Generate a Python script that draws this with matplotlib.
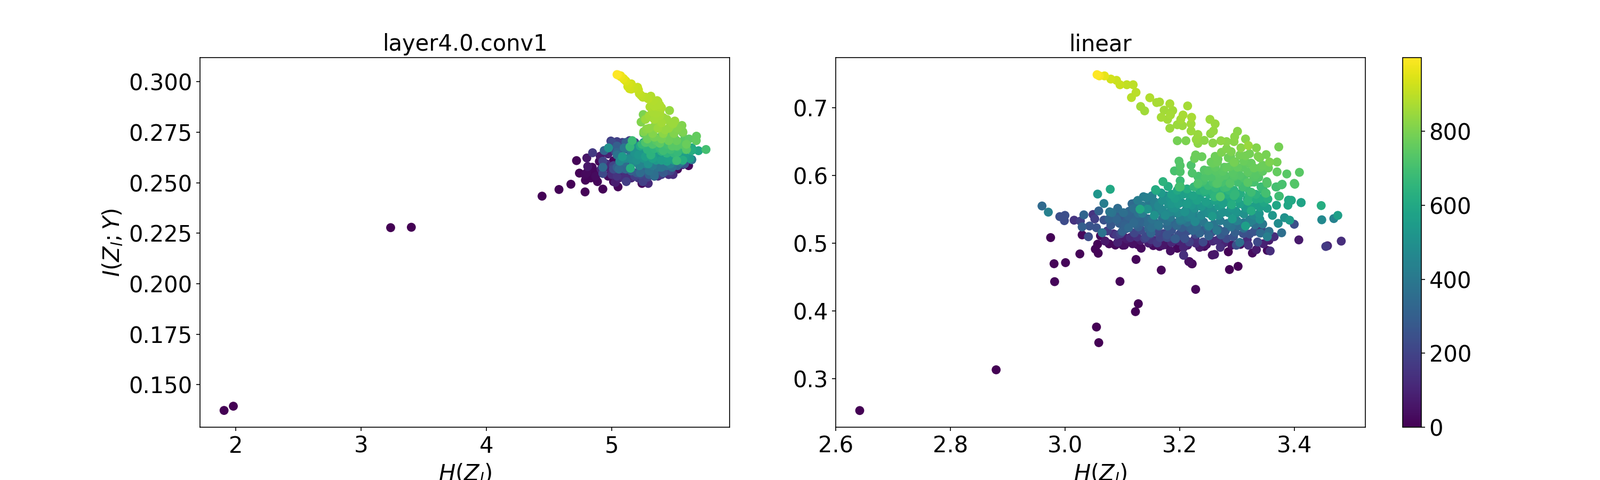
"""Information plane scatter for two layers, coloured by training epoch."""

import matplotlib

matplotlib.use("Agg")

import matplotlib.pyplot as plt
import numpy as np

TITLES = ["layer4.0.conv1", "linear"]

# layer4.0.conv1: epoch, H(Z_l), I(Z_l;Y)
conv_epoch = [
    0, 1, 2, 3,
    5, 6, 7, 8, 9, 10, 11, 12, 13, 14,
    15, 16, 17, 18, 19, 20, 22, 24, 26, 28,
    60, 170, 70, 90, 65, 80, 90, 100, 90, 110,
    120, 120, 125, 120, 110, 120, 130, 120, 125,
    180, 190, 200, 220, 180, 190, 200, 210, 220, 230,
    240, 180, 200, 190, 240, 220, 250, 250, 360,
    320, 340, 330, 340, 350, 360, 370, 400,
    350, 360, 340, 350, 370, 380, 390, 400, 380,
    500, 470, 480, 490, 500, 520, 520, 510, 540, 560,
    550, 560, 590, 550, 500, 520, 510, 530, 540, 550, 600,
    620, 660, 680, 680, 640, 650, 640, 650, 660, 650, 700,
    660, 670, 680, 690, 700, 690,
    760, 760, 750, 740, 740, 770, 770, 760, 750, 780, 810, 780, 740,
    810, 800, 820, 830, 840, 840, 850, 850, 840, 850, 840, 860, 870, 875, 880, 885,
    900, 890, 910, 920, 925, 935, 950, 965, 985, 999, 915,
    870, 870, 865, 860, 850, 865, 860, 850, 845, 830, 850, 840, 815, 800, 810, 815,
    825, 810, 770, 790, 790, 780, 770, 740, 720, 720, 750, 740, 740, 740, 690, 690,
    670, 620, 640, 600, 500, 420, 400, 300, 230, 300, 530, 560, 570, 560, 570, 560,
    620, 450, 470, 450, 440, 410, 390, 430, 330, 260, 380, 300, 230, 280, 330, 300,
    280, 320, 310, 350, 280, 200, 130, 150, 130, 180, 150, 200, 170, 110, 20, 25,
    30, 20, 100, 120, 210, 190, 380, 240,
    975, 960, 945, 930, 925, 920, 915, 905, 895, 890, 885, 880, 880, 880, 875, 875, 880,
]
conv_h = [
    1.906, 1.980, 3.235, 3.400,
    4.443, 4.578, 4.673, 4.786, 4.928, 4.718, 4.741, 4.789, 4.831, 4.885,
    5.049, 4.900, 5.013, 4.829, 4.864, 5.240, 5.612, 5.524, 5.013, 4.970,
    4.800, 4.846, 4.907, 4.970, 4.807, 5.027, 5.056, 4.970, 5.070, 5.155,
    5.290, 5.453, 5.488, 5.141, 5.240, 5.368, 5.566, 5.013, 5.127,
    4.992, 5.041, 4.928, 4.928, 5.115, 5.247, 5.013, 5.084, 5.226, 5.339,
    5.439, 5.141, 5.183, 5.084, 5.041, 5.155, 5.268, 5.368, 5.637,
    4.939, 4.928, 5.041, 5.056, 5.226, 5.339, 5.481, 5.637,
    5.155, 5.197, 5.127, 5.098, 5.240, 5.368, 5.439, 5.552, 5.297,
    4.973, 5.063, 5.098, 5.155, 5.197, 5.254, 5.254, 5.290, 5.353, 5.439,
    5.524, 5.580, 5.691, 5.623, 5.254, 5.297, 5.183, 5.382, 5.084, 5.339, 5.637,
    5.148, 5.144, 5.162, 5.517, 5.396, 5.339, 5.311, 5.439, 5.495, 5.580, 5.751,
    5.240, 5.382, 5.283, 5.524, 5.439, 5.587,
    5.673, 5.675, 5.616, 5.283, 5.353, 5.495, 5.595, 5.382, 5.254, 5.566, 5.559, 5.453, 5.517,
    5.233, 5.250, 5.275, 5.339, 5.424, 5.368, 5.488, 5.502, 5.325, 5.410, 5.460, 5.318, 5.382, 5.368, 5.368, 5.311,
    5.233, 5.268, 5.212, 5.176, 5.141, 5.134, 5.098, 5.070, 5.049, 5.041, 5.155,
    5.325, 5.353, 5.382, 5.297, 5.268, 5.339, 5.396, 5.439, 5.467, 5.297, 5.368, 5.453, 5.524, 5.566, 5.254, 5.325,
    5.410, 5.495, 5.283, 5.339, 5.396, 5.453, 5.517, 5.580, 5.268, 5.325, 5.382, 5.481, 5.559, 5.595, 5.410, 5.467,
    5.524, 5.637, 5.283, 5.226, 5.197, 5.155, 5.098, 5.041, 5.000, 5.112, 5.212, 5.268, 5.325, 5.396, 5.453, 5.495,
    5.566, 5.127, 5.169, 5.219, 5.268, 5.325, 5.396, 5.467, 5.524, 5.580, 5.041, 5.041, 5.013, 5.070, 5.112, 5.155,
    5.197, 5.240, 5.297, 5.339, 5.410, 5.467, 4.999, 5.041, 5.098, 5.183, 5.212, 5.283, 5.396, 4.942, 4.843, 4.800,
    4.871, 4.786, 4.914, 4.956, 5.027, 5.070, 5.155, 5.084,
    5.070, 5.091, 5.112, 5.127, 5.155, 5.155, 5.205, 5.219, 5.247, 5.290, 5.332, 5.361, 5.382, 5.339, 5.396, 5.304, 5.325,
]
conv_i = [
    0.1373, 0.1394, 0.2278, 0.2280,
    0.2434, 0.2467, 0.2493, 0.2455, 0.2469, 0.2610, 0.2548, 0.2513, 0.2524, 0.2506,
    0.2480, 0.2606, 0.2609, 0.2568, 0.2555, 0.2497, 0.2585, 0.2568, 0.2506, 0.2533,
    0.2623, 0.2649, 0.2632, 0.2643, 0.2581, 0.2502, 0.2524, 0.2577, 0.2559, 0.2524,
    0.2497, 0.2541, 0.2541, 0.2603, 0.2524, 0.2533, 0.2590, 0.2550, 0.2541,
    0.2707, 0.2704, 0.2607, 0.2546, 0.2506, 0.2506, 0.2585, 0.2568, 0.2541, 0.2533,
    0.2559, 0.2709, 0.2700, 0.2700, 0.2673, 0.2594, 0.2568, 0.2568, 0.2614,
    0.2660, 0.2577, 0.2651, 0.2568, 0.2550, 0.2541, 0.2577, 0.2616,
    0.2700, 0.2665, 0.2665, 0.2603, 0.2594, 0.2577, 0.2585, 0.2603, 0.2559,
    0.2673, 0.2607, 0.2621, 0.2621, 0.2612, 0.2656, 0.2621, 0.2594, 0.2612, 0.2607,
    0.2621, 0.2634, 0.2659, 0.2621, 0.2700, 0.2673, 0.2647, 0.2638, 0.2630, 0.2647, 0.2673,
    0.2572, 0.2678, 0.2709, 0.2610, 0.2656, 0.2669, 0.2638, 0.2647, 0.2647, 0.2665, 0.2665,
    0.2691, 0.2673, 0.2700, 0.2678, 0.2691, 0.2682,
    0.2709, 0.2731, 0.2717, 0.2726, 0.2709, 0.2726, 0.2691, 0.2726, 0.2744, 0.2748, 0.2784, 0.2744, 0.2682,
    0.2801, 0.2838, 0.2766, 0.2779, 0.2762, 0.2806, 0.2792, 0.2806, 0.2823, 0.2823, 0.2858, 0.2867, 0.2850, 0.2876, 0.2902, 0.2929,
    0.2933, 0.2924, 0.2960, 0.2968, 0.2966, 0.2990, 0.3012, 0.3026, 0.3034, 0.3036, 0.2977,
    0.2850, 0.2845, 0.2832, 0.2832, 0.2814, 0.2814, 0.2797, 0.2814, 0.2797, 0.2770, 0.2770, 0.2770, 0.2770, 0.2753, 0.2753, 0.2744,
    0.2744, 0.2744, 0.2717, 0.2726, 0.2717, 0.2709, 0.2709, 0.2717, 0.2700, 0.2691, 0.2696, 0.2682, 0.2691, 0.2665, 0.2660, 0.2665,
    0.2651, 0.2660, 0.2665, 0.2682, 0.2682, 0.2665, 0.2673, 0.2682, 0.2700, 0.2700, 0.2638, 0.2630, 0.2621, 0.2612, 0.2621, 0.2612,
    0.2612, 0.2621, 0.2603, 0.2585, 0.2594, 0.2585, 0.2577, 0.2594, 0.2585, 0.2594, 0.2638, 0.2577, 0.2568, 0.2577, 0.2568, 0.2559,
    0.2550, 0.2559, 0.2541, 0.2533, 0.2550, 0.2559, 0.2541, 0.2533, 0.2524, 0.2533, 0.2524, 0.2528, 0.2541, 0.2594, 0.2577, 0.2550,
    0.2533, 0.2541, 0.2568, 0.2594, 0.2656, 0.2656, 0.2647, 0.2594,
    0.3030, 0.3017, 0.3004, 0.2977, 0.2990, 0.2964, 0.2973, 0.2942, 0.2924, 0.2916, 0.2907, 0.2907, 0.2885, 0.2880, 0.2872, 0.2876, 0.2889,
]

# linear: epoch, H(Z_l), I(Z_l;Y)
linear_epoch = [
    0, 1, 2, 3, 4, 5, 6, 7, 8, 9, 10, 11, 12, 13, 14,
    15, 16, 17, 18, 19, 20, 21, 22, 24, 26, 28, 30, 32, 35, 40,
    340, 430, 240, 240, 230, 150, 320, 190, 300, 260, 150, 190, 260, 310, 420,
    520, 600, 380, 20, 230, 130, 80, 60, 70, 40, 30, 30, 50, 40, 50,
    20, 30, 130, 170, 230, 290, 250, 190, 120, 180, 130, 80, 320, 340, 310,
    300, 270, 310, 390, 350, 360, 320, 340, 600, 510, 420, 430, 400, 600, 450,
    480, 590, 560, 670, 500, 510, 560, 570, 510, 480, 510, 480, 350, 340, 360,
    340, 430, 330, 310, 350, 330, 220, 260, 450, 320,
    130, 170, 100, 70, 240, 360, 480, 540, 500, 470, 440, 560, 620, 560, 590,
    600, 690, 590, 560, 530, 700, 710, 730, 700, 520, 610, 560, 430, 430, 370,
    350, 130, 80, 130, 240, 220, 150, 70, 30, 20, 130, 360, 240, 10, 50,
    60, 130, 230, 130, 5, 5, 130, 40, 30, 280, 230, 70, 30, 10, 100,
    220, 310, 130, 330, 320, 400, 280, 260, 350, 400, 470, 440, 540, 500, 500,
    500, 540, 490, 510, 430, 550, 540, 570, 620, 650, 720, 620, 660, 650, 690,
    620, 700, 730, 730, 740, 730, 720,
    999, 985, 960, 930, 920, 915, 905, 900, 895, 890, 880, 870, 870, 870, 865,
    860, 855, 860, 860, 865, 860, 865, 870, 870, 860, 850, 850, 850, 855, 850,
    850, 845, 840, 835, 845, 840, 830, 825, 820, 830, 820, 820, 825, 820, 820,
    845, 820, 810, 815, 790, 790, 800, 800, 790, 795, 800, 790, 775, 770, 770,
    780, 780, 790, 770, 775, 760, 760, 750, 770, 760, 740, 740, 730, 730, 710,
    720, 720, 720, 730, 710, 740, 730, 735, 735, 730, 700, 700, 730, 690, 700,
    640, 620, 610, 680, 690, 710, 695, 720, 720, 690, 690, 640, 680, 660, 650,
    630, 590, 580,
    60, 90, 70, 40, 70, 80, 120, 60, 110, 100, 70, 120, 50, 110, 100, 50, 40, 120, 90,
    180, 170, 230, 210, 230, 180, 220, 200, 260, 240, 240, 220, 280, 240, 300, 300, 250, 260, 200,
    320, 300, 330, 320, 340, 360, 400, 340, 380, 350, 400, 390, 410, 400, 430, 400, 360,
    370, 420, 430, 470, 470, 470, 470, 490, 480, 500, 500, 470,
    420, 430, 500, 530, 520, 530, 530, 540, 540, 560, 570, 560, 590,
    540, 570, 600, 580, 560, 600, 620, 620, 640, 660,
    620, 660, 680, 670, 710, 650, 700, 680, 710, 680,
    720, 735, 730, 740, 730, 750, 740, 750, 740, 750, 750, 760, 770, 770,
    250, 380, 300, 270, 310, 330, 340, 370, 330, 420, 300, 320, 380, 330, 440,
    470, 420, 430, 390, 370, 500, 520, 550, 450, 420, 470, 540, 450, 500, 430,
    330, 300, 200, 170, 240, 150, 140, 210, 40,
    480, 560, 500, 570, 500, 560, 530, 600, 520, 600, 540, 600, 560, 620, 560,
    360, 430, 510, 400, 380, 310, 330, 300,
    620, 640, 640, 650, 680, 650, 690, 650, 710, 730, 690, 700, 720, 700, 700,
    710, 725, 720, 740, 745, 755, 770, 770, 765, 775, 775, 780, 790, 790, 795,
    800, 800, 770,
]
linear_h = [
    2.642, 2.880, 3.055, 3.059, 3.123, 3.128, 2.975, 3.057, 3.053, 3.058, 3.026, 2.981, 3.001, 2.982, 3.096,
    3.124, 3.168, 3.228, 3.217, 3.221, 3.062, 3.077, 3.088, 3.101, 3.127, 3.133, 3.154, 3.165, 3.176, 3.184,
    2.960, 2.971, 2.991, 3.000, 2.999, 3.016, 3.033, 3.027, 3.030, 3.043, 3.049, 3.052, 3.055, 3.059, 3.068,
    3.057, 3.079, 3.065, 3.030, 3.041, 3.207, 3.102, 3.085, 3.114, 3.139, 3.145, 3.150, 3.141, 3.178, 3.192,
    3.196, 3.206, 3.209, 3.161, 3.178, 3.192, 3.209, 3.217, 3.114, 3.139, 3.085, 3.102, 3.124, 3.111, 3.100,
    3.095, 3.080, 3.077, 3.078, 3.092, 3.102, 3.111, 3.117, 3.131, 3.144, 3.137, 3.142, 3.147, 3.159, 3.165,
    3.176, 3.180, 3.192, 3.201, 3.181, 3.192, 3.207, 3.215, 3.209, 3.198, 3.156, 3.175, 3.145, 3.164, 3.151,
    3.179, 3.201, 3.189, 3.218, 3.145, 3.150, 3.141, 3.178, 3.215, 3.117,
    3.482, 3.455, 3.458, 3.408, 3.400, 3.378, 3.372, 3.392, 3.383, 3.448, 3.469, 3.476, 3.447, 3.412, 3.389,
    3.395, 3.373, 3.369, 3.353, 3.362, 3.368, 3.378, 3.401, 3.351, 3.339, 3.325, 3.315, 3.322, 3.353, 3.356,
    3.341, 3.365, 3.356, 3.341, 3.322, 3.336, 3.320, 3.334, 3.327, 3.353, 3.358, 3.305, 3.299, 3.285, 3.257,
    3.261, 3.271, 3.282, 3.266, 3.287, 3.302, 3.207, 3.216, 3.222, 3.193, 3.209, 3.235, 3.243, 3.196, 3.207,
    3.241, 3.251, 3.227, 3.223, 3.235, 3.265, 3.272, 3.294, 3.303, 3.201, 3.227, 3.251, 3.292, 3.209, 3.226,
    3.255, 3.257, 3.274, 3.300, 3.322, 3.213, 3.198, 3.230, 3.244, 3.261, 3.271, 3.291, 3.297, 3.319, 3.325,
    3.341, 3.201, 3.266, 3.288, 3.319, 3.353, 3.232,
    3.056, 3.060, 3.069, 3.080, 3.090, 3.096, 3.108, 3.119, 3.124, 3.116, 3.148, 3.160, 3.165, 3.183, 3.214,
    3.132, 3.139, 3.173, 3.188, 3.168, 3.179, 3.184, 3.206, 3.221, 3.202, 3.196, 3.205, 3.183, 3.220, 3.220,
    3.253, 3.262, 3.259, 3.254, 3.232, 3.229, 3.232, 3.243, 3.258, 3.272, 3.282, 3.301, 3.296, 3.295, 3.315,
    3.320, 3.307, 3.282, 3.334, 3.373, 3.196, 3.211, 3.337, 3.315, 3.351, 3.357, 3.370, 3.228, 3.226, 3.239,
    3.262, 3.289, 3.295, 3.255, 3.266, 3.282, 3.321, 3.310, 3.341, 3.370, 3.387, 3.409, 3.199, 3.201, 3.191,
    3.201, 3.220, 3.222, 3.243, 3.233, 3.263, 3.270, 3.295, 3.330, 3.352, 3.379, 3.369, 3.400, 3.374, 3.350,
    3.171, 3.180, 3.158, 3.201, 3.199, 3.241, 3.232, 3.264, 3.289, 3.315, 3.282, 3.243, 3.271, 3.295, 3.321,
    3.354, 3.390, 3.412,
    3.070, 3.092, 3.108, 3.118, 3.132, 3.146, 3.158, 3.171, 3.186, 3.199, 3.214, 3.228, 3.247, 3.258, 3.277, 3.291, 3.306, 3.318, 3.346,
    3.074, 3.090, 3.106, 3.121, 3.133, 3.147, 3.160, 3.172, 3.186, 3.201, 3.214, 3.228, 3.242, 3.256, 3.280, 3.297, 3.311, 3.330, 3.348,
    3.090, 3.108, 3.125, 3.136, 3.156, 3.170, 3.184, 3.195, 3.213, 3.230, 3.242, 3.260, 3.271, 3.283, 3.300, 3.312, 3.332,
    3.120, 3.135, 3.150, 3.170, 3.184, 3.220, 3.238, 3.250, 3.268, 3.285, 3.312, 3.329,
    3.127, 3.152, 3.170, 3.186, 3.203, 3.221, 3.238, 3.252, 3.268, 3.282, 3.305, 3.333, 3.347,
    3.168, 3.186, 3.196, 3.224, 3.235, 3.252, 3.282, 3.306, 3.333, 3.346,
    3.213, 3.225, 3.250, 3.262, 3.274, 3.286, 3.301, 3.316, 3.330, 3.342,
    3.255, 3.268, 3.279, 3.293, 3.305, 3.319, 3.333, 3.345, 3.250, 3.262, 3.278, 3.301, 3.330, 3.355,
    3.068, 3.082, 3.088, 3.098, 3.105, 3.112, 3.120, 3.128, 3.122, 3.135, 3.128, 3.138, 3.152, 3.146, 3.158,
    3.163, 3.172, 3.156, 3.163, 3.178, 3.188, 3.183, 3.196, 3.196, 3.206, 3.212, 3.218, 3.225, 3.232, 3.231,
    3.220, 3.204, 3.166, 3.184, 3.198, 3.150, 3.126, 3.097, 3.104,
    3.245, 3.246, 3.258, 3.262, 3.275, 3.275, 3.290, 3.290, 3.298, 3.302, 3.315, 3.318, 3.326, 3.333, 3.340,
    3.312, 3.328, 3.340, 3.345, 3.290, 3.268, 3.249, 3.233,
    3.235, 3.245, 3.258, 3.270, 3.278, 3.295, 3.310, 3.322, 3.325, 3.338, 3.240, 3.232, 3.245, 3.258, 3.268,
    3.284, 3.295, 3.312, 3.322, 3.275, 3.288, 3.297, 3.312, 3.325, 3.345, 3.267, 3.285, 3.305, 3.322, 3.340,
    3.273, 3.290, 3.258,
]
linear_i = [
    0.2526, 0.3128, 0.3760, 0.3529, 0.3987, 0.4104, 0.5081, 0.4984, 0.4911, 0.4850, 0.4840, 0.4695, 0.4711, 0.4430, 0.4433,
    0.4758, 0.4601, 0.4316, 0.4727, 0.4695, 0.5108, 0.4989, 0.4971, 0.4968, 0.4976, 0.4924, 0.4963, 0.4950, 0.4976, 0.4884,
    0.5548, 0.5457, 0.5391, 0.5409, 0.5331, 0.5338, 0.5417, 0.5325, 0.5239, 0.5252, 0.5422, 0.5357, 0.5226, 0.5475, 0.5585,
    0.5724, 0.5795, 0.5152, 0.5121, 0.5094, 0.4819, 0.5094, 0.5134, 0.5081, 0.5068, 0.5278, 0.5147, 0.5094, 0.5081, 0.5063,
    0.4924, 0.4937, 0.5068, 0.5002, 0.5081, 0.5063, 0.5068, 0.5016, 0.5081, 0.5068, 0.5134, 0.5094, 0.5278, 0.5226, 0.5173,
    0.5291, 0.5265, 0.5357, 0.5462, 0.5514, 0.5449, 0.5396, 0.5580, 0.5501, 0.5501, 0.5685, 0.5672, 0.5619, 0.5777, 0.5593,
    0.5698, 0.5835, 0.5659, 0.5842, 0.5567, 0.5514, 0.5724, 0.5724, 0.5462, 0.5449, 0.5409, 0.5409, 0.5357, 0.5252, 0.5226,
    0.5252, 0.5357, 0.5304, 0.5226, 0.5278, 0.5147, 0.5094, 0.5121, 0.5383, 0.5462,
    0.5029, 0.4950, 0.4960, 0.5047, 0.5278, 0.5152, 0.5291, 0.5338, 0.5375, 0.5344, 0.5362, 0.5409, 0.5554, 0.5598, 0.5559,
    0.5632, 0.5693, 0.5559, 0.5514, 0.5409, 0.5829, 0.5861, 0.5869, 0.5737, 0.5436, 0.5475, 0.5252, 0.5304, 0.5094, 0.5173,
    0.5147, 0.5094, 0.5042, 0.5199, 0.5134, 0.5016, 0.4968, 0.4903, 0.4853, 0.4892, 0.4884, 0.5010, 0.4968, 0.4871, 0.4824,
    0.4832, 0.4937, 0.5068, 0.5042, 0.4609, 0.4656, 0.4824, 0.4727, 0.4693, 0.5063, 0.5068, 0.4937, 0.4950, 0.4924, 0.4937,
    0.5016, 0.5107, 0.5068, 0.5186, 0.5147, 0.5186, 0.5121, 0.5094, 0.5252, 0.5331, 0.5317, 0.5252, 0.5357, 0.5462, 0.5514,
    0.5475, 0.5396, 0.5449, 0.5449, 0.5344, 0.5580, 0.5580, 0.5632, 0.5751, 0.5685, 0.5685, 0.5567, 0.5724, 0.5619, 0.5751,
    0.5659, 0.5829, 0.5882, 0.5882, 0.5895, 0.5882, 0.5882,
    0.7488, 0.7470, 0.7470, 0.7423, 0.7404, 0.7339, 0.7339, 0.7339, 0.7226, 0.7150, 0.7147, 0.7076, 0.7084, 0.7058, 0.7026,
    0.7018, 0.6953, 0.6963, 0.6958, 0.6858, 0.6827, 0.6892, 0.6892, 0.6858, 0.6827, 0.6748, 0.6735, 0.6696, 0.6761, 0.6656,
    0.6827, 0.6761, 0.6656, 0.6617, 0.6604, 0.6530, 0.6473, 0.6517, 0.6478, 0.6512, 0.6499, 0.6651, 0.6570, 0.6499, 0.6538,
    0.6441, 0.6407, 0.6394, 0.6407, 0.6420, 0.6512, 0.6512, 0.6281, 0.6289, 0.6307, 0.6197, 0.6197, 0.6302, 0.6249, 0.6276,
    0.6281, 0.6281, 0.6192, 0.6197, 0.6197, 0.6118, 0.6176, 0.6118, 0.6118, 0.6052, 0.6021, 0.6045, 0.6210, 0.6145, 0.6066,
    0.6053, 0.6150, 0.6034, 0.6079, 0.5987, 0.6066, 0.5960, 0.6000, 0.5974, 0.5908, 0.5869, 0.5829, 0.5882, 0.5693, 0.5738,
    0.5908, 0.5835, 0.5790, 0.5921, 0.5829, 0.5921, 0.5870, 0.5880, 0.5960, 0.5880, 0.5830, 0.5780, 0.5685, 0.5700, 0.5700,
    0.5650, 0.5635, 0.5598,
    0.503, 0.501, 0.506, 0.499, 0.504, 0.500, 0.504, 0.497, 0.501, 0.503, 0.497, 0.500, 0.498, 0.503, 0.500, 0.497, 0.498, 0.505, 0.499,
    0.518, 0.512, 0.521, 0.515, 0.519, 0.512, 0.517, 0.514, 0.519, 0.514, 0.518, 0.513, 0.519, 0.516, 0.518, 0.516, 0.514, 0.517, 0.516,
    0.535, 0.533, 0.537, 0.531, 0.531, 0.536, 0.538, 0.526, 0.531, 0.525, 0.531, 0.528, 0.533, 0.529, 0.533, 0.530, 0.527,
    0.551, 0.544, 0.551, 0.549, 0.546, 0.542, 0.541, 0.544, 0.541, 0.545, 0.543, 0.541,
    0.563, 0.570, 0.563, 0.558, 0.560, 0.556, 0.554, 0.558, 0.555, 0.561, 0.558, 0.556, 0.560,
    0.574, 0.572, 0.578, 0.570, 0.567, 0.572, 0.572, 0.573, 0.572, 0.578,
    0.580, 0.583, 0.585, 0.582, 0.590, 0.578, 0.590, 0.582, 0.590, 0.583,
    0.598, 0.603, 0.600, 0.604, 0.600, 0.605, 0.601, 0.606, 0.607, 0.612, 0.612, 0.612, 0.611, 0.611,
    0.534, 0.545, 0.541, 0.537, 0.526, 0.547, 0.530, 0.544, 0.559, 0.555, 0.524, 0.538, 0.535, 0.521, 0.545,
    0.555, 0.542, 0.561, 0.527, 0.532, 0.552, 0.566, 0.568, 0.544, 0.535, 0.550, 0.563, 0.548, 0.556, 0.537,
    0.525, 0.523, 0.508, 0.509, 0.511, 0.505, 0.509, 0.514, 0.497,
    0.548, 0.561, 0.549, 0.563, 0.546, 0.558, 0.552, 0.565, 0.547, 0.566, 0.552, 0.565, 0.553, 0.565, 0.553,
    0.522, 0.534, 0.535, 0.528, 0.524, 0.520, 0.523, 0.520,
    0.578, 0.578, 0.575, 0.576, 0.582, 0.578, 0.583, 0.575, 0.590, 0.597, 0.590, 0.598, 0.597, 0.590, 0.593,
    0.593, 0.598, 0.596, 0.603, 0.606, 0.613, 0.620, 0.621, 0.618, 0.615, 0.624, 0.626, 0.630, 0.632, 0.626,
    0.634, 0.635, 0.618,
]

plt.rcParams["font.size"] = 20

fig, axes = plt.subplots(1, 2, figsize=(20, 6))
fig.subplots_adjust(left=0.125, right=2560 / 3000, bottom=0.11, top=0.88, wspace=0.2)
cax = fig.add_axes([2630 / 3000, 0.11, 35 / 3000, 0.77])

panels = [
    (conv_epoch, conv_h, conv_i, (1.714, 5.94), (0.129, 0.312)),
    (linear_epoch, linear_h, linear_i, (2.6, 3.524), (0.228, 0.774)),
]
for ax, title, (epoch, h, i, xlim, ylim) in zip(axes, TITLES, panels):
    # later epochs sit on top
    order = np.argsort(epoch)
    sc = ax.scatter(
        np.array(h)[order], np.array(i)[order], c=np.array(epoch)[order],
        s=50, cmap="viridis", vmin=0, vmax=999,
    )
    ax.set_xlim(xlim)
    ax.set_ylim(ylim)
    ax.set_xlabel("$H(Z_l)$")
    ax.set_title(title, fontsize=20)

axes[0].set_ylabel("$I(Z_l;Y)$")
fig.colorbar(sc, cax=cax)

fig.savefig("out.png", dpi=150)
plt.close(fig)
